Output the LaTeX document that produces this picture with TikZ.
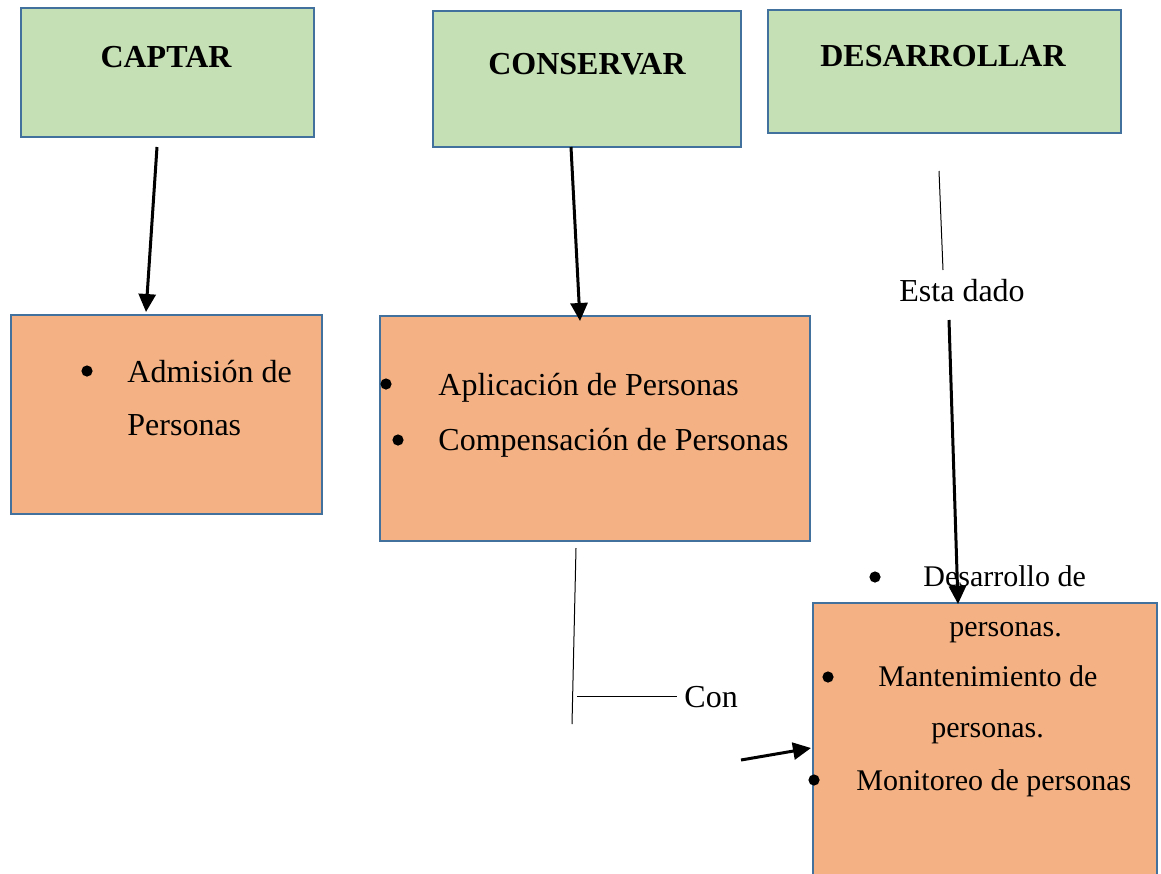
\documentclass[tikz,border=0pt]{standalone}
\usepackage{fontspec}
\setmainfont{Liberation Serif}
\usetikzlibrary{arrows.meta}
\definecolor{boxgreen}{HTML}{C5E0B4}
\definecolor{boxorange}{HTML}{F4B183}
\definecolor{boxline}{HTML}{41719C}
\tikzset{
  greenbox/.style={draw=boxline, fill=boxgreen, line width=1.2pt, inner sep=0pt},
  orangebox/.style={draw=boxline, fill=boxorange, line width=1.2pt, inner sep=0pt},
  head/.style={font=\fontsize{16}{19}\selectfont\bfseries, inner sep=0pt, anchor=base},
  body/.style={font=\fontsize{16}{19}\selectfont, inner sep=0pt, anchor=base west},
  smallbody/.style={font=\fontsize{15}{18}\selectfont, inner sep=0pt, anchor=base west},
  thickarrow/.style={line width=1.5pt, -{Triangle[length=9pt,width=8.5pt]}},
  thinline/.style={line width=0.5pt},
  bulletdot/.style={fill=black}
}
\begin{document}
\begin{tikzpicture}[x=0.5pt,y=-0.5pt]
\clip (0,0) rectangle (1161,873);
\fill[white] (0,0) rectangle (1161,873);
% top boxes
\node[greenbox, minimum width=146.5pt, minimum height=64.5pt] (captar) at (167.5,72.5) {};
\node[greenbox, minimum width=154pt, minimum height=68pt] (conservar) at (587,79) {};
\node[greenbox, minimum width=176.5pt, minimum height=61.5pt] (desarrollar) at (944.5,71.5) {};
\node[head] (tcaptar) at (166,67) {CAPTAR};
\node[head] (tconservar) at (587,74) {CONSERVAR};
\node[head] (tdesarrollar) at (943,66) {DESARROLLAR};
% middle boxes
\node[orangebox, minimum width=155.5pt, minimum height=99.5pt] (admision) at (166.5,414.5) {};
\node[orangebox, minimum width=215pt, minimum height=112.5pt] (aplicacion) at (595,428.5) {};
% bottom-right box (runs past the lower edge)
\node[orangebox, minimum width=172pt, minimum height=150pt] (desarrollo) at (985,753) {};
% texts of Admision box
\fill[bulletdot] (87,371) circle (2.8pt);
\node[body] (t1) at (127,382) {Admisión de};
\node[body] (t2) at (127,435) {Personas};
% texts of Aplicacion box
\fill[bulletdot] (386,384) circle (2.8pt);
\node[body] (t3) at (438,395) {Aplicación de Personas};
\fill[bulletdot] (398,440) circle (2.8pt);
\node[body] (t4) at (438,450) {Compensación de Personas};
% texts of Desarrollo box
\fill[bulletdot] (875,577) circle (2.8pt);
\node[smallbody] (t5) at (923,586) {Desarrollo de};
\node[smallbody] (t6) at (949,636) {personas.};
\fill[bulletdot] (828,677) circle (2.8pt);
\node[smallbody] (t7) at (878,686) {Mantenimiento de};
\node[smallbody] (t8) at (931,737) {personas.};
\fill[bulletdot] (814,780) circle (2.8pt);
\node[smallbody] (t9) at (856,790) {Monitoreo de personas};
% labels
\node[body] (esta) at (899,301) {Esta dado};
\node[body] (con) at (684,707) {Con};
% connector coordinates
\coordinate (a1s) at (157,147);
\coordinate (a1e) at (146,312);
\coordinate (a2s) at (571,147);
\coordinate (a2e) at (580,321);
\coordinate (l3s) at (939,171);
\coordinate (l3e) at (943,270);
\coordinate (a3s) at (949,320);
\coordinate (a3e) at (958,604);
\coordinate (l4s) at (576,548);
\coordinate (l4e) at (572,724);
\coordinate (l5s) at (577,696);
\coordinate (a4s) at (741,760);
\coordinate (a4e) at (811,748);
% connectors
\draw[thickarrow] (a1s) -- (a1e);
\draw[thickarrow] (a2s) -- (a2e);
\draw[thinline] (l3s) -- (l3e);
\draw[thickarrow] (a3s) -- (a3e);
\draw[thinline] (l4s) -- (l4e);
\draw[thinline] (l5s) -- ([xshift=-3.5pt]con.west |- l5s);
\draw[thickarrow] (a4s) -- (a4e);
\end{tikzpicture}
\end{document}
